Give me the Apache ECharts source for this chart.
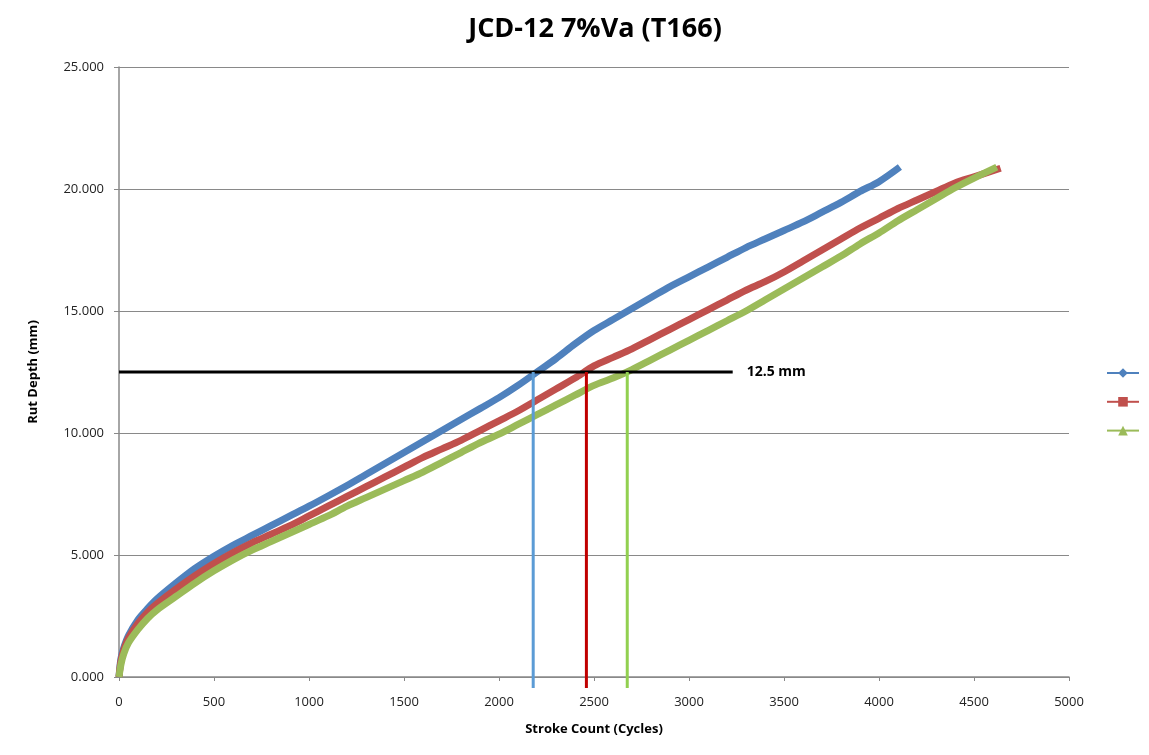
<!DOCTYPE html>
<html>
<head>
<meta charset="utf-8">
<script src="https://cdn.jsdelivr.net/npm/echarts@6/dist/echarts.min.js"></script>
<style>html,body{margin:0;padding:0;background:#fff}#c{width:1149px;height:755px}</style>
</head>
<body>
<div id="c"></div>
<script>
const title = 'JCD-12 7%Va (T166)';
const xName = 'Stroke Count (Cycles)';
const yName = 'Rut Depth (mm)';
const yTicks = [0, 5, 10, 15, 20, 25];
const xTicks = [0, 500, 1000, 1500, 2000, 2500, 3000, 3500, 4000, 4500, 5000];

const blueX = [0,10,25,50,100,150,200,300,400,500,600,700,800,900,1000,1100,1200,1300,1400,1500,1600,1700,1800,1900,2000,2100,2200,2300,2400,2500,2600,2700,2800,2900,3000,3100,3200,3300,3400,3500,3600,3700,3800,3900,4000,4110];
const blueY = [0,0.75,1.2,1.7,2.35,2.8,3.2,3.85,4.45,4.95,5.4,5.8,6.2,6.6,7.0,7.42,7.85,8.3,8.75,9.2,9.65,10.1,10.55,11.0,11.45,11.95,12.5,13.05,13.65,14.2,14.65,15.1,15.55,16.0,16.4,16.8,17.2,17.6,17.95,18.3,18.65,19.05,19.45,19.9,20.3,20.9];

const redX = [0,10,25,50,100,150,200,300,400,500,600,700,800,900,1000,1100,1200,1300,1400,1500,1600,1700,1800,1900,2000,2100,2200,2300,2400,2500,2600,2700,2800,2900,3000,3100,3200,3300,3400,3500,3600,3700,3800,3900,4000,4100,4200,4300,4400,4500,4640];
const redY = [0,0.65,1.1,1.6,2.2,2.65,3.0,3.6,4.15,4.65,5.1,5.5,5.85,6.2,6.6,7.0,7.4,7.8,8.2,8.6,9.0,9.35,9.7,10.1,10.5,10.9,11.35,11.8,12.25,12.75,13.1,13.45,13.85,14.25,14.65,15.05,15.45,15.85,16.2,16.6,17.05,17.5,17.95,18.4,18.8,19.2,19.55,19.9,20.25,20.5,20.85];

const greenX = [0,10,25,50,100,150,200,300,400,500,600,700,800,900,1000,1100,1200,1300,1400,1500,1600,1700,1800,1900,2000,2100,2200,2300,2400,2500,2600,2700,2800,2900,3000,3100,3200,3300,3400,3500,3600,3700,3800,3900,4000,4100,4200,4300,4400,4500,4620];
const greenY = [0,0.5,0.95,1.4,1.95,2.4,2.75,3.3,3.85,4.35,4.8,5.2,5.55,5.9,6.25,6.6,7.0,7.35,7.7,8.05,8.4,8.8,9.2,9.6,9.95,10.35,10.75,11.15,11.55,11.95,12.25,12.6,13.0,13.4,13.8,14.2,14.6,15.0,15.45,15.9,16.35,16.8,17.25,17.75,18.2,18.7,19.15,19.6,20.05,20.45,20.9];

const threshold = 12.5;
const thresholdLabel = '12.5 mm';
const thresholdLineX = [0, 3230];
const crossBlue = 2180, crossRed = 2460, crossGreen = 2675;
const dropBottom = -0.45;

const pairs = (xs, ys) => xs.map((x, i) => [x, ys[i]]);

const C_BLUE = '#4F81BD', C_RED = '#C0504D', C_GREEN = '#9BBB59';

const chart = echarts.init(document.getElementById('c'), null, {renderer: 'canvas'});
const font = "'Open Sans', 'Liberation Sans', sans-serif";

function curve(name, data, color, symbol) {
  return {
    name, type: 'line', data, smooth: 0.3, showSymbol: false, symbol, symbolSize: 6,
    lineStyle: {color, width: 7}, itemStyle: {color}, z: 2
  };
}
function drop(x, color) {
  return {
    type: 'line', data: [[x, threshold], [x, dropBottom]], clip: false, showSymbol: false,
    symbol: 'none', lineStyle: {color, width: 3}, z: 4, silent: true
  };
}

chart.setOption({
  animation: false,
  backgroundColor: '#ffffff',
  title: {
    text: title, left: 590, top: 11, textAlign: 'center',
    textStyle: {fontFamily: font, fontSize: 27, fontWeight: 'bold', color: '#000'}
  },
  grid: {left: 119, right: 80, top: 67, bottom: 78, containLabel: false},
  legend: {
    orient: 'vertical', right: 4, top: 362, itemGap: 18, itemWidth: 32, itemHeight: 12,
    formatter: () => '', data: ['Series1', 'Series2', 'Series3'],
    textStyle: {fontSize: 1}
  },
  xAxis: {
    type: 'value', min: 0, max: 5000, interval: 500,
    name: xName, nameLocation: 'middle', nameGap: 46,
    nameTextStyle: {fontFamily: font, fontSize: 13, fontWeight: 'bold', color: '#000'},
    axisLine: {lineStyle: {color: '#898989', width: 1.5}},
    axisTick: {show: true, length: 4, lineStyle: {color: '#898989'}},
    axisLabel: {fontFamily: font, fontSize: 13, color: '#222', margin: 19, formatter: v => String(v)},
    splitLine: {show: false}
  },
  yAxis: {
    type: 'value', min: 0, max: 25, interval: 5,
    name: yName, nameLocation: 'middle', nameGap: 79, nameRotate: 90,
    nameTextStyle: {fontFamily: font, fontSize: 13, fontWeight: 'bold', color: '#000'},
    axisLine: {show: true, lineStyle: {color: '#898989', width: 1.5}},
    axisTick: {show: true, length: 5, lineStyle: {color: '#898989'}},
    axisLabel: {fontFamily: font, fontSize: 13, color: '#222', margin: 15,
      formatter: v => v.toFixed(3)},
    splitLine: {show: true, lineStyle: {color: '#898989', width: 1}}
  },
  series: [
    curve('Series1', pairs(blueX, blueY), C_BLUE, 'diamond'),
    curve('Series2', pairs(redX, redY), C_RED, 'rect'),
    curve('Series3', pairs(greenX, greenY), C_GREEN, 'triangle'),
    {
      type: 'line', data: [[thresholdLineX[0], threshold], [thresholdLineX[1], threshold]],
      showSymbol: false, symbol: 'none', lineStyle: {color: '#000', width: 3}, z: 3, silent: true,
      endLabel: {show: true, distance: 14, formatter: thresholdLabel,
        fontFamily: font, fontSize: 14, fontWeight: 'bold', color: '#000'}
    },
    drop(crossBlue, '#5B9BD5'),
    drop(crossRed, '#C00000'),
    drop(crossGreen, '#92D050')
  ]
});
</script>
</body>
</html>
